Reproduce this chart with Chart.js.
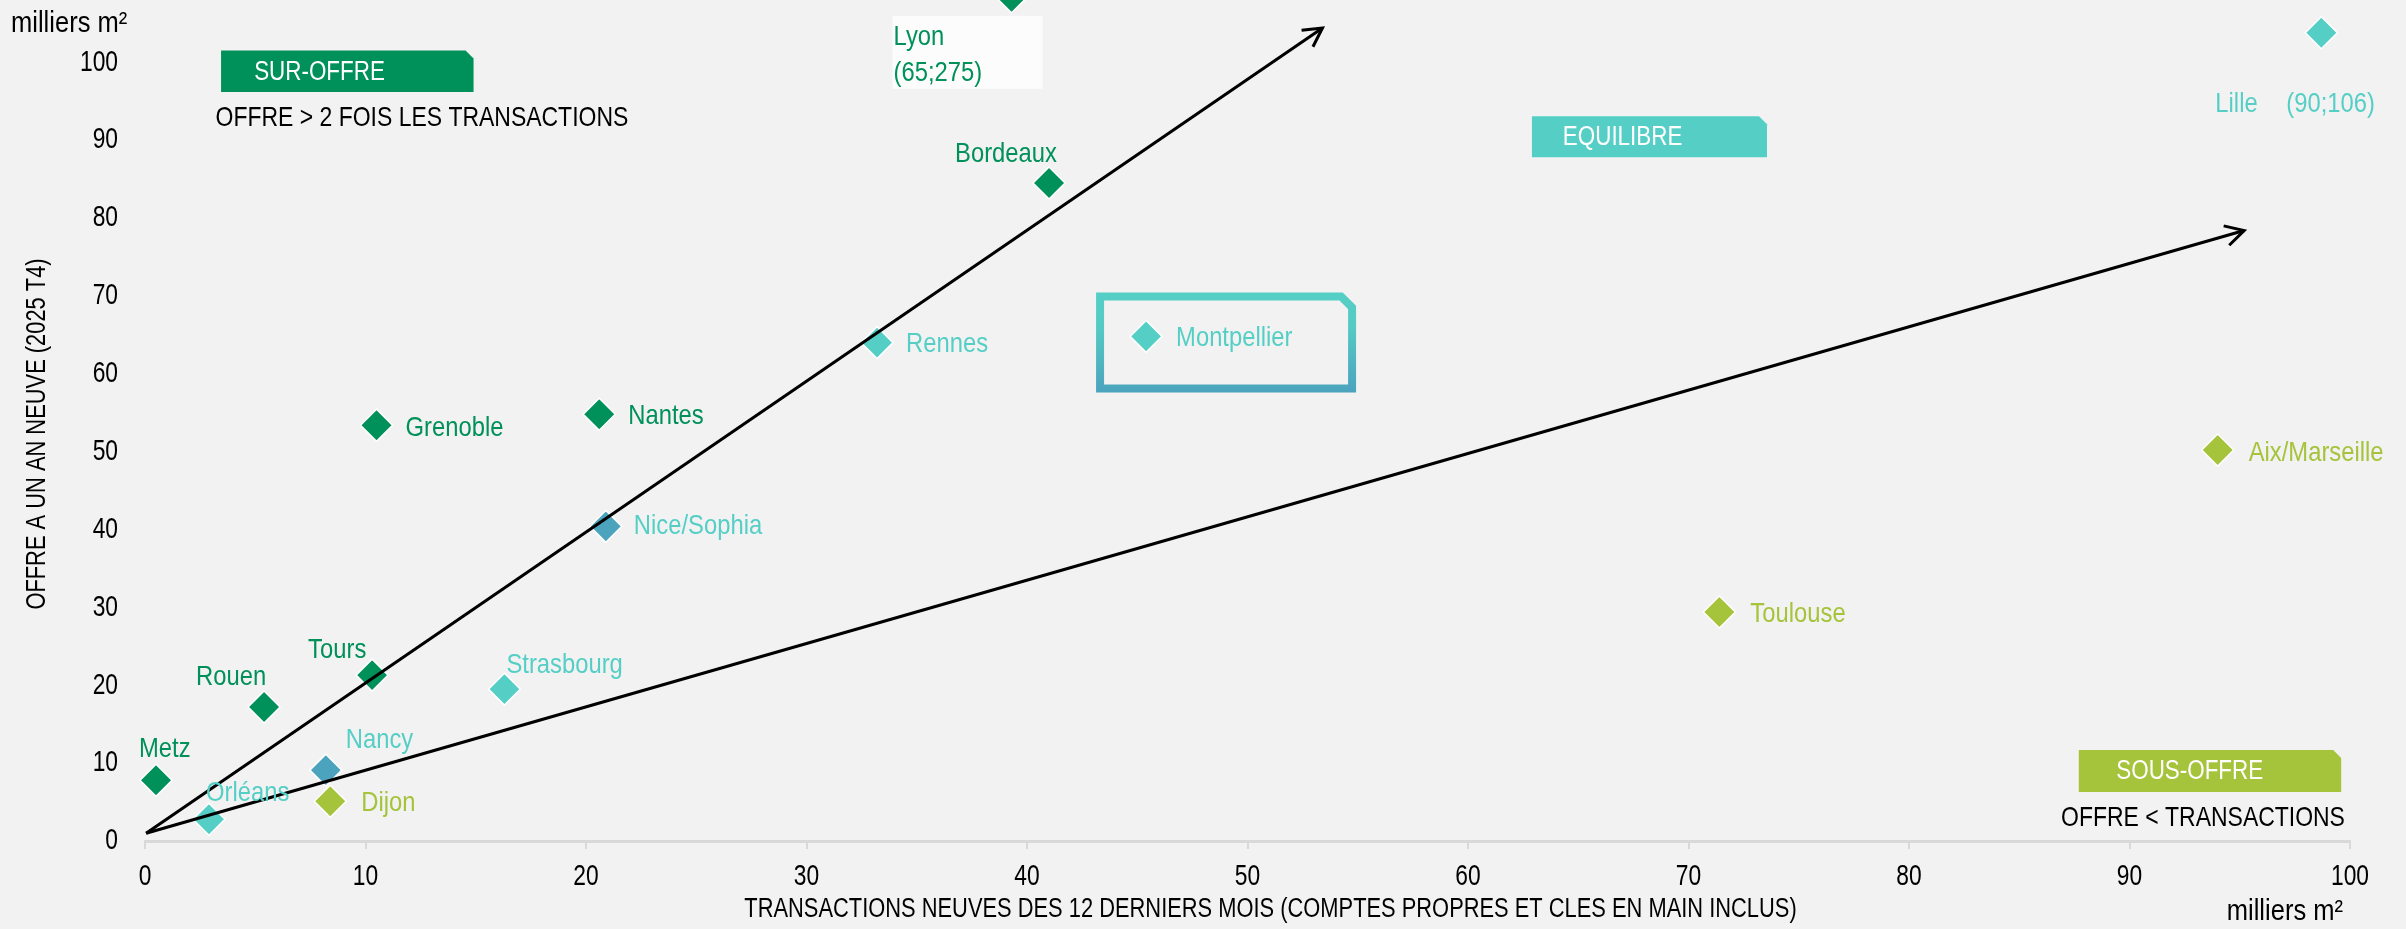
<!DOCTYPE html>
<html lang="fr">
<head>
<meta charset="utf-8">
<title>Offre neuve et transactions</title>
<script src="https://cdn.jsdelivr.net/npm/chart.js@4/dist/chart.umd.min.js"></script>
<style>
html, body { margin: 0; padding: 0; background: #f2f2f2; }
canvas { display: block; }
</style>
</head>
<body>
<canvas id="graphique" width="2406" height="929"></canvas>
<script>
// === Données ===
const villes = ["Metz", "Orléans", "Rouen", "Nancy", "Dijon", "Tours", "Grenoble", "Strasbourg", "Nantes",
  "Nice/Sophia", "Rennes", "Bordeaux", "Lyon", "Montpellier", "Toulouse", "Aix/Marseille", "Lille"];
const transactions = [0.5, 2.9, 5.4, 8.2, 8.4, 10.3, 10.5, 16.3, 20.6, 20.9, 33.2, 41.0, 39.3, 45.4, 71.4, 94.0, 98.7];
const offre = [7.8, 2.8, 17.2, 9.1, 5.1, 21.3, 53.4, 19.5, 54.8, 40.4, 64.0, 84.5, 108.4, 64.8, 29.4, 50.2, 103.8];
const statut = ["sur", "equ", "sur", "bleu", "sous", "sur", "sur", "equ", "sur",
  "bleu", "equ", "sur", "sur", "equ", "sous", "sous", "equ"];
const etiquettes = ["Metz", "Orléans", "Rouen", "Nancy", "Dijon", "Tours", "Grenoble", "Strasbourg", "Nantes",
  "Nice/Sophia", "Rennes", "Bordeaux", "Lyon|(65;275)", "Montpellier", "Toulouse", "Aix/Marseille", "Lille|(90;106)"];

// droites "offre = 2 x transactions" et "offre = transactions"
const flecheSurX = [0.05, 53.4];
const flecheSurY = [1.0, 104.4];
const flecheEquX = [0.05, 95.2];
const flecheEquY = [1.0, 78.4];

const xTicks = [0, 10, 20, 30, 40, 50, 60, 70, 80, 90, 100];
const yTicks = [0, 10, 20, 30, 40, 50, 60, 70, 80, 90, 100];

const titreX = "TRANSACTIONS NEUVES DES 12 DERNIERS MOIS (COMPTES PROPRES ET CLES EN MAIN INCLUS)";
const titreY = "OFFRE A UN AN NEUVE (2025 T4)";

// === Styles ===
const police = "'Liberation Sans', Arial, sans-serif";
const ETROIT = 0.82; // simule une police "narrow"
const couleurs = { sur: "#00905a", equ: "#55cfc6", bleu: "#4ba3be", sous: "#a5c33b" };
const couleurTexte = { sur: "#00905a", equ: "#55cfc6", bleu: "#55cfc6", sous: "#a5c33b" };

// position des étiquettes (décalage en px par rapport au point)
const posEtiquettes = {
  "Metz": [-17, -31], "Orléans": [-3, -26], "Rouen": [-68, -30], "Nancy": [20, -30], "Dijon": [31, 2],
  "Tours": [-64, -25], "Grenoble": [29, 3], "Strasbourg": [2, -24], "Nantes": [29, 2], "Nice/Sophia": [28, 0],
  "Rennes": [29, 2], "Bordeaux": [-94, -29], "Lyon": [-118, 40], "Montpellier": [30, 2], "Toulouse": [31, 2],
  "Aix/Marseille": [31, 3], "Lille": [-106, 72]
};

// cadres de légende (coordonnées dans le repère du graphique)
const cadres = [
  { texte: "SUR-OFFRE", couleur: "#00905a", x1: 3.45, x2: 14.9, y1: 101.5, y2: 96.2, tx: 4.95, sous: "OFFRE > 2 FOIS LES TRANSACTIONS", sx: 3.2, sy: 92.8, align: "left" },
  { texte: "EQUILIBRE", couleur: "#55cfc6", x1: 62.9, x2: 73.56, y1: 93.07, y2: 87.8, tx: 64.3 },
  { texte: "SOUS-OFFRE", couleur: "#a5c33b", x1: 87.7, x2: 99.6, y1: 11.68, y2: 6.29, tx: 89.4, sous: "OFFRE < TRANSACTIONS", sx: 99.77, sy: 2.95, align: "right" }
];

Chart.defaults.font.family = police;
Chart.defaults.font.size = 26;
Chart.defaults.color = "#000";

function formeCoupee(ctx, x1, y1, x2, y2, coupe) {
  ctx.beginPath();
  ctx.moveTo(x1, y1);
  ctx.lineTo(x2 - coupe, y1);
  ctx.lineTo(x2, y1 + coupe);
  ctx.lineTo(x2, y2);
  ctx.lineTo(x1, y2);
  ctx.closePath();
}

function texte(ctx, txt, x, y, align, taille, rot, etroit) {
  ctx.save();
  ctx.translate(x, y);
  if (rot) ctx.rotate(rot);
  ctx.scale(etroit || ETROIT, 1);
  ctx.font = taille + "px " + police;
  ctx.textAlign = align;
  ctx.textBaseline = "middle";
  ctx.fillText(txt, 0, 0);
  ctx.restore();
}

const decor = {
  id: "decor",
  beforeDraw(chart) {
    const ctx = chart.ctx;
    ctx.save();
    ctx.fillStyle = "#f2f2f2";
    ctx.fillRect(0, 0, chart.width, chart.height);
    ctx.restore();
  },
  beforeDatasetsDraw(chart) {
    const ctx = chart.ctx;
    const sx = chart.scales.x, sy = chart.scales.y;
    ctx.save();
    // cadres SUR-OFFRE / EQUILIBRE / SOUS-OFFRE
    cadres.forEach(c => {
      const x1 = sx.getPixelForValue(c.x1), x2 = sx.getPixelForValue(c.x2);
      const y1 = sy.getPixelForValue(c.y1), y2 = sy.getPixelForValue(c.y2);
      formeCoupee(ctx, x1, y1, x2, y2, 8);
      ctx.fillStyle = c.couleur;
      ctx.fill();
      ctx.fillStyle = "#fff";
      texte(ctx, c.texte, sx.getPixelForValue(c.tx), (y1 + y2) / 2 + 1, "left", 27, 0, 0.83);
      if (c.sous) {
        ctx.fillStyle = "#000";
        texte(ctx, c.sous, sx.getPixelForValue(c.sx), sy.getPixelForValue(c.sy), c.align, 28);
      }
    });

    // cadre autour de Montpellier
    const meta = chart.getDatasetMeta(2);
    const pM = meta.data[villes.indexOf("Montpellier")];
    const grad = ctx.createLinearGradient(0, pM.y - 44, 0, pM.y + 56);
    grad.addColorStop(0, "#55cfc6");
    grad.addColorStop(0.35, "#55cac4");
    grad.addColorStop(1, "#4ba3be");
    formeCoupee(ctx, pM.x - 46, pM.y - 40, pM.x + 206, pM.y + 52, 11);
    ctx.lineWidth = 8;
    ctx.strokeStyle = grad;
    ctx.stroke();

    // fond blanc sous l'étiquette de Lyon
    const pL = meta.data[villes.indexOf("Lyon")];
    ctx.fillStyle = "#fcfcfc";
    ctx.fillRect(pL.x - 119, pL.y + 19, 150, 73);
    ctx.restore();
  },
  afterDatasetsDraw(chart) {
    const ctx = chart.ctx;
    const area = chart.chartArea;
    const sx = chart.scales.x, sy = chart.scales.y;
    ctx.save();
    // pointes de flèches
    [0, 1].forEach(d => {
      const pts = chart.getDatasetMeta(d).data;
      const a = pts[pts.length - 2], b = pts[pts.length - 1];
      const ang = Math.atan2(b.y - a.y, b.x - a.x);
      const L = 21, ouv = 0.5;
      ctx.beginPath();
      ctx.moveTo(b.x - L * Math.cos(ang - ouv), b.y - L * Math.sin(ang - ouv));
      ctx.lineTo(b.x, b.y);
      ctx.lineTo(b.x - L * Math.cos(ang + ouv), b.y - L * Math.sin(ang + ouv));
      ctx.strokeStyle = "#000";
      ctx.lineWidth = 3;
      ctx.stroke();
    });

    // étiquettes des villes
    const meta = chart.getDatasetMeta(2);
    villes.forEach((v, i) => {
      const p = meta.data[i];
      const [dx, dy] = posEtiquettes[v];
      const lignes = etiquettes[i].split("|");
      ctx.fillStyle = couleurTexte[statut[i]];
      texte(ctx, lignes[0], p.x + dx, p.y + dy, "left", 28, 0, 0.85);
      if (v === "Lyon") texte(ctx, lignes[1], p.x + dx, p.y + dy + 36, "left", 28, 0, 0.85);
      if (v === "Lille") texte(ctx, lignes[1], p.x - 35, p.y + dy, "left", 28, 0, 0.85);
    });

    // graduations (police étroite, positions données par les échelles)
    ctx.fillStyle = "#000";
    sy.ticks.forEach(t => texte(ctx, String(t.value), area.left - 27, sy.getPixelForValue(t.value), "right", 30, 0, 0.76));
    sx.ticks.forEach(t => texte(ctx, String(t.value), sx.getPixelForValue(t.value), sx.top + 36, "center", 30, 0, 0.76));

    // titres des axes et unités
    texte(ctx, titreX, (area.left + area.right) / 2 + 23, 910, "center", 27, 0, 0.81);
    texte(ctx, titreY, 38, 434, "center", 27, -Math.PI / 2, 0.81);
    texte(ctx, "milliers m²", 11, 24, "left", 29, 0, 0.88);
    texte(ctx, "milliers m²", 2343, 912, "right", 29, 0, 0.88);
    ctx.restore();
  }
};

const ctx = document.getElementById("graphique");

new Chart(ctx, {
  type: "scatter",
  data: {
    datasets: [
      {
        type: "line", label: "2x", data: flecheSurX.map((x, i) => ({ x, y: flecheSurY[i] })),
        borderColor: "#000", borderWidth: 3, pointRadius: 0, fill: false, showLine: true, clip: false
      },
      {
        type: "line", label: "1x", data: flecheEquX.map((x, i) => ({ x, y: flecheEquY[i] })),
        borderColor: "#000", borderWidth: 3, pointRadius: 0, fill: false, showLine: true, clip: false
      },
      {
        label: "villes",
        data: villes.map((v, i) => ({ x: transactions[i], y: offre[i] })),
        pointStyle: "rectRot",
        pointRadius: 16,
        pointBackgroundColor: statut.map(s => couleurs[s]),
        pointBorderColor: "#ffffff",
        pointBorderWidth: 1.5,
        clip: false
      }
    ]
  },
  options: {
    responsive: false,
    animation: false,
    devicePixelRatio: 1,
    events: [],
    layout: { autoPadding: false, padding: { left: 0, right: 56, top: 0, bottom: 0 } },
    plugins: { legend: { display: false }, tooltip: { enabled: false } },
    scales: {
      x: {
        type: "linear", min: 0, max: 100,
        afterBuildTicks: s => { s.ticks = xTicks.map(v => ({ value: v })); },
        afterFit: s => { s.height = 88; s.paddingLeft = 0; s.paddingRight = 0; },
        grid: { display: true, drawOnChartArea: false, drawTicks: true, tickLength: 8, color: "#d9d9d9", lineWidth: 2 },
        border: { display: true, color: "#d9d9d9", width: 3 },
        ticks: { display: false },
        title: { display: false, text: titreX }
      },
      y: {
        type: "linear", min: 0, max: 108,
        afterBuildTicks: s => { s.ticks = yTicks.map(v => ({ value: v })); },
        afterFit: s => { s.width = 145; s.paddingTop = 0; s.paddingBottom = 0; },
        grid: { display: false, drawTicks: false },
        border: { display: false },
        ticks: { display: false },
        title: { display: false, text: titreY }
      }
    }
  },
  plugins: [decor]
});
</script>
</body>
</html>
